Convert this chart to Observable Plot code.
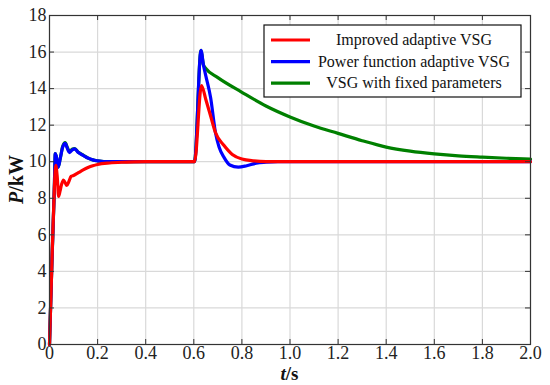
<!DOCTYPE html>
<html>
<head>
<meta charset="utf-8">
<script src="https://cdn.jsdelivr.net/npm/d3@7"></script>
<script src="https://cdn.jsdelivr.net/npm/@observablehq/plot@0.6"></script>
<style>
  html, body { margin: 0; padding: 0; background: #fff; }
  #chart { width: 550px; height: 385px; }
</style>
</head>
<body>
<div id="chart"></div>
<script>
// ---- data ----
const seriesNames = ["Improved adaptive VSG", "Power function adaptive VSG", "VSG with fixed parameters"];
const seriesColors = ["#ff0000", "#0000ff", "#008000"];

const redT = [0, 0.01, 0.02, 0.026, 0.032, 0.038, 0.044, 0.05, 0.058, 0.065, 0.072, 0.08, 0.09, 0.1, 0.12, 0.14, 0.16, 0.18, 0.2, 0.25, 0.3, 0.35, 0.4, 0.6, 0.603, 0.632, 0.65, 0.67, 0.69, 0.725, 0.76, 0.8, 0.85, 0.9, 1.0, 2.0];
const redP = [0, 4.5, 8.5, 9.8, 9.2, 8.1, 8.4, 8.75, 9.0, 8.85, 8.7, 8.9, 9.2, 9.25, 9.4, 9.55, 9.68, 9.78, 9.85, 9.93, 9.97, 9.99, 10, 10, 10, 14.17, 13.4, 12.5, 11.6, 10.9, 10.4, 10.15, 10.05, 10.01, 10.0, 10.0];

const blueT = [0, 0.01, 0.02, 0.024, 0.028, 0.036, 0.045, 0.055, 0.065, 0.075, 0.083, 0.095, 0.105, 0.12, 0.14, 0.16, 0.18, 0.2, 0.25, 0.6, 0.603, 0.63, 0.64, 0.65, 0.67, 0.69, 0.705, 0.725, 0.75, 0.785, 0.82, 0.86, 0.9, 0.95, 1.0, 2.0];
const blueP = [0, 4.5, 8.5, 10.45, 10.3, 9.7, 10.2, 10.8, 11.0, 10.7, 10.5, 10.65, 10.7, 10.5, 10.35, 10.2, 10.1, 10.05, 10.0, 10, 10, 16.1, 15.3, 14.7, 13.5, 11.6, 10.8, 10.25, 9.82, 9.7, 9.78, 9.92, 9.97, 10.0, 10, 10];

const greenT = [0, 0.01, 0.02, 0.024, 0.028, 0.036, 0.045, 0.055, 0.065, 0.075, 0.083, 0.095, 0.105, 0.12, 0.14, 0.16, 0.18, 0.2, 0.25, 0.6, 0.603, 0.63, 0.64, 0.65, 0.7, 0.8, 0.9, 1.0, 1.1, 1.2, 1.3, 1.4, 1.5, 1.6, 1.7, 1.8, 1.9, 2.0];
const greenP = [0, 4.5, 8.5, 10.45, 10.3, 9.7, 10.2, 10.85, 11.05, 10.75, 10.55, 10.7, 10.72, 10.52, 10.36, 10.2, 10.1, 10.05, 10.0, 10, 10, 16.1, 15.3, 15.1, 14.6, 13.8, 13.05, 12.45, 11.95, 11.55, 11.15, 10.8, 10.58, 10.43, 10.32, 10.25, 10.19, 10.14];

const xTicks = [0, 0.2, 0.4, 0.6, 0.8, 1.0, 1.2, 1.4, 1.6, 1.8, 2.0];
const yTicks = [0, 2, 4, 6, 8, 10, 12, 14, 16, 18];

// ---- build table ----
const rows = [];
[[redT, redP], [blueT, blueP], [greenT, greenP]].forEach(([T, P], i) => {
  T.forEach((t, j) => rows.push({series: seriesNames[i], t, P: P[j]}));
});
const drawOrder = [2, 1, 0];

const W = 550, H = 385, mL = 49, mR = 20, mT = 15, mB = 41;
const ph = H - mT - mB;
const pw = W - mL - mR;
const serif = "'Liberation Serif', 'Times New Roman', serif";
const fmt = d => d === 0 ? "0" : d.toFixed(1);

const marks = [
  Plot.gridX(xTicks, {stroke: "#d9d9d9", strokeOpacity: 1, strokeWidth: 1.2}),
  Plot.gridY(yTicks, {stroke: "#d9d9d9", strokeOpacity: 1, strokeWidth: 1.2}),
];
drawOrder.forEach(i => {
  marks.push(Plot.line(rows.filter(r => r.series === seriesNames[i]), {
    x: "t", y: "P", stroke: seriesColors[i], strokeWidth: 3.2, curve: "monotone-x"
  }));
});
marks.push(
  // inward ticks on all four sides
  Plot.tickX(xTicks, {x: d => d, insetTop: ph - 5, stroke: "#333"}),
  Plot.tickX(xTicks, {x: d => d, insetBottom: ph - 5, stroke: "#333"}),
  Plot.tickY(yTicks, {y: d => d, insetRight: pw - 5, stroke: "#333"}),
  Plot.tickY(yTicks, {y: d => d, insetLeft: pw - 5, stroke: "#333"}),
  Plot.axisX(xTicks, {tickSize: 0, tickPadding: 2, tickFormat: fmt, label: null, fill: "#222", fontFamily: serif, fontSize: 18}),
  Plot.axisY(yTicks, {tickSize: 0, tickPadding: 3, label: null, fill: "#222", fontFamily: serif, fontSize: 18}),
  Plot.frame({stroke: "#333", strokeWidth: 1.2})
);

const chart = Plot.plot({
  width: W, height: H,
  marginLeft: mL, marginRight: mR, marginTop: mT, marginBottom: mB,
  x: {domain: [0, 2]},
  y: {domain: [0, 18]},
  style: {fontFamily: serif, fontSize: "18px", background: "#fff", color: "#222"},
  marks
});
document.getElementById("chart").appendChild(chart);

// ---- axis titles and legend ----
const svg = d3.select(chart);
svg.selectAll("text").attr("font-family", serif);

const xl = svg.append("text").attr("x", (mL + W - mR) / 2).attr("y", 380)
  .attr("text-anchor", "middle").attr("font-family", serif).attr("font-size", 19)
  .attr("font-weight", "bold").attr("fill", "#111");
xl.append("tspan").attr("font-style", "italic").text("t");
xl.append("tspan").text("/s");

const yl = svg.append("text").attr("transform", `translate(23,${(mT + H - mB) / 2}) rotate(-90)`)
  .attr("text-anchor", "middle").attr("font-family", serif).attr("font-size", 20)
  .attr("font-weight", "bold").attr("fill", "#111");
yl.append("tspan").attr("font-style", "italic").text("P");
yl.append("tspan").text("/kW");

const lg = svg.append("g");
lg.append("rect").attr("x", 264).attr("y", 25).attr("width", 257).attr("height", 72)
  .attr("fill", "#fff").attr("stroke", "#111").attr("stroke-width", 1.2);
[0, 1, 2].forEach(i => {
  const y = 40 + i * 21.6;
  lg.append("line").attr("x1", 271).attr("x2", 310).attr("y1", y).attr("y2", y)
    .attr("stroke", seriesColors[i]).attr("stroke-width", 3.2);
  lg.append("text").attr("x", 414).attr("y", y).attr("dy", "0.33em")
    .attr("text-anchor", "middle").attr("font-family", serif).attr("font-size", 16)
    .attr("fill", "#111").text(seriesNames[i]);
});
</script>
</body>
</html>
